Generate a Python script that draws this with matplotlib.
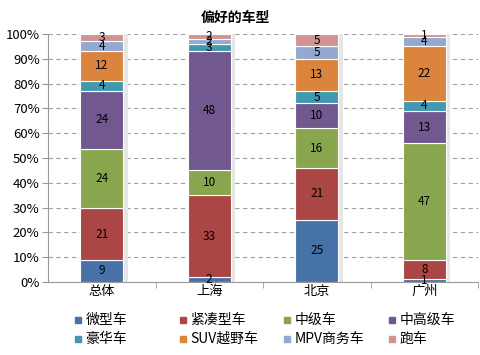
import numpy as np
import matplotlib.pyplot as plt
from matplotlib.lines import Line2D

plt.rcParams['font.family'] = ['Noto Sans CJK SC', 'DejaVu Sans']

cities = ['总体', '上海', '北京', '广州']
types = ['微型车', '紧凑型车', '中级车', '中高级车', '豪华车', 'SUV越野车', 'MPV商务车', '跑车']
colors = ['#4672A8', '#AA4644', '#89A54E', '#71588F', '#4198AF', '#DB843D', '#93A9CF', '#D19392']

# values per car type, one entry per city
mini = [9, 2, 25, 1]
compact = [21, 33, 21, 8]
mid = [24, 10, 16, 47]
upper_mid = [24, 48, 10, 13]
luxury = [4, 3, 5, 4]
suv = [12, 0, 13, 22]
mpv = [4, 2, 5, 4]
sport = [3, 2, 5, 1]

series = [mini, compact, mid, upper_mid, luxury, suv, mpv, sport]
data = np.array(series, dtype=float)
pct = data / data.sum(axis=0) * 100

W, H = 480, 355
fig = plt.figure(figsize=(W / 100, H / 100), dpi=100)
ax = fig.add_axes([0.1, 0.206, 0.896, 0.698])

x = np.arange(len(cities))
width = 0.4
bottom = np.zeros(len(cities))

# light shadow behind each bar
ax.bar(x + 0.02, 100, width + 0.04, color='#E6E6E6', zorder=1)

for i, (vals, p) in enumerate(zip(series, pct)):
    ax.bar(x, p, width, bottom=bottom, color=colors[i], edgecolor='white',
           linewidth=0.8, zorder=2)
    for j in range(len(cities)):
        if vals[j] > 0:
            ax.text(x[j], bottom[j] + p[j] / 2, str(vals[j]), ha='center', va='center',
                    fontsize=8.5, color='black', zorder=3)
    bottom += p

ax.set_xlim(-0.5, 3.5)
ax.set_ylim(0, 100)
ax.set_yticks(range(0, 101, 10))
ax.set_yticklabels([f'{v}%' for v in range(0, 101, 10)], fontsize=9.5)
ax.yaxis.grid(True, linestyle=(0, (4, 3)), color='#A0A0A0', linewidth=0.8)
ax.set_axisbelow(True)

ax.set_xticks(x)
ax.set_xticklabels(cities, fontsize=9.5)
ax.set_xticks(np.arange(0.5, 4, 1), minor=True)
ax.tick_params(axis='x', which='major', length=0, pad=2)
ax.tick_params(axis='x', which='minor', length=4, color='#999999')
ax.tick_params(axis='y', length=4, color='#999999', pad=2)

for s in ['top', 'right']:
    ax.spines[s].set_visible(False)
for s in ['left', 'bottom']:
    ax.spines[s].set_color('#999999')

fig.text(0.49, 0.95, '偏好的车型', ha='center', va='center', fontsize=10, fontweight='bold')

# legend laid out in fixed-width columns, row by row (pixel positions)
col_x = [78, 183, 287, 392]
row_y = [320, 339]
for k, (name, c) in enumerate(zip(types, colors)):
    px, py = col_x[k % 4], row_y[k // 4]
    fx, fy = px / W, 1 - py / H
    fig.add_artist(Line2D([fx], [fy], marker='s', markersize=5, color=c,
                          linestyle='', transform=fig.transFigure))
    fig.text(fx + 7.5 / W, fy, name, ha='left', va='center', fontsize=10)

fig.savefig('out.png', dpi=100)
